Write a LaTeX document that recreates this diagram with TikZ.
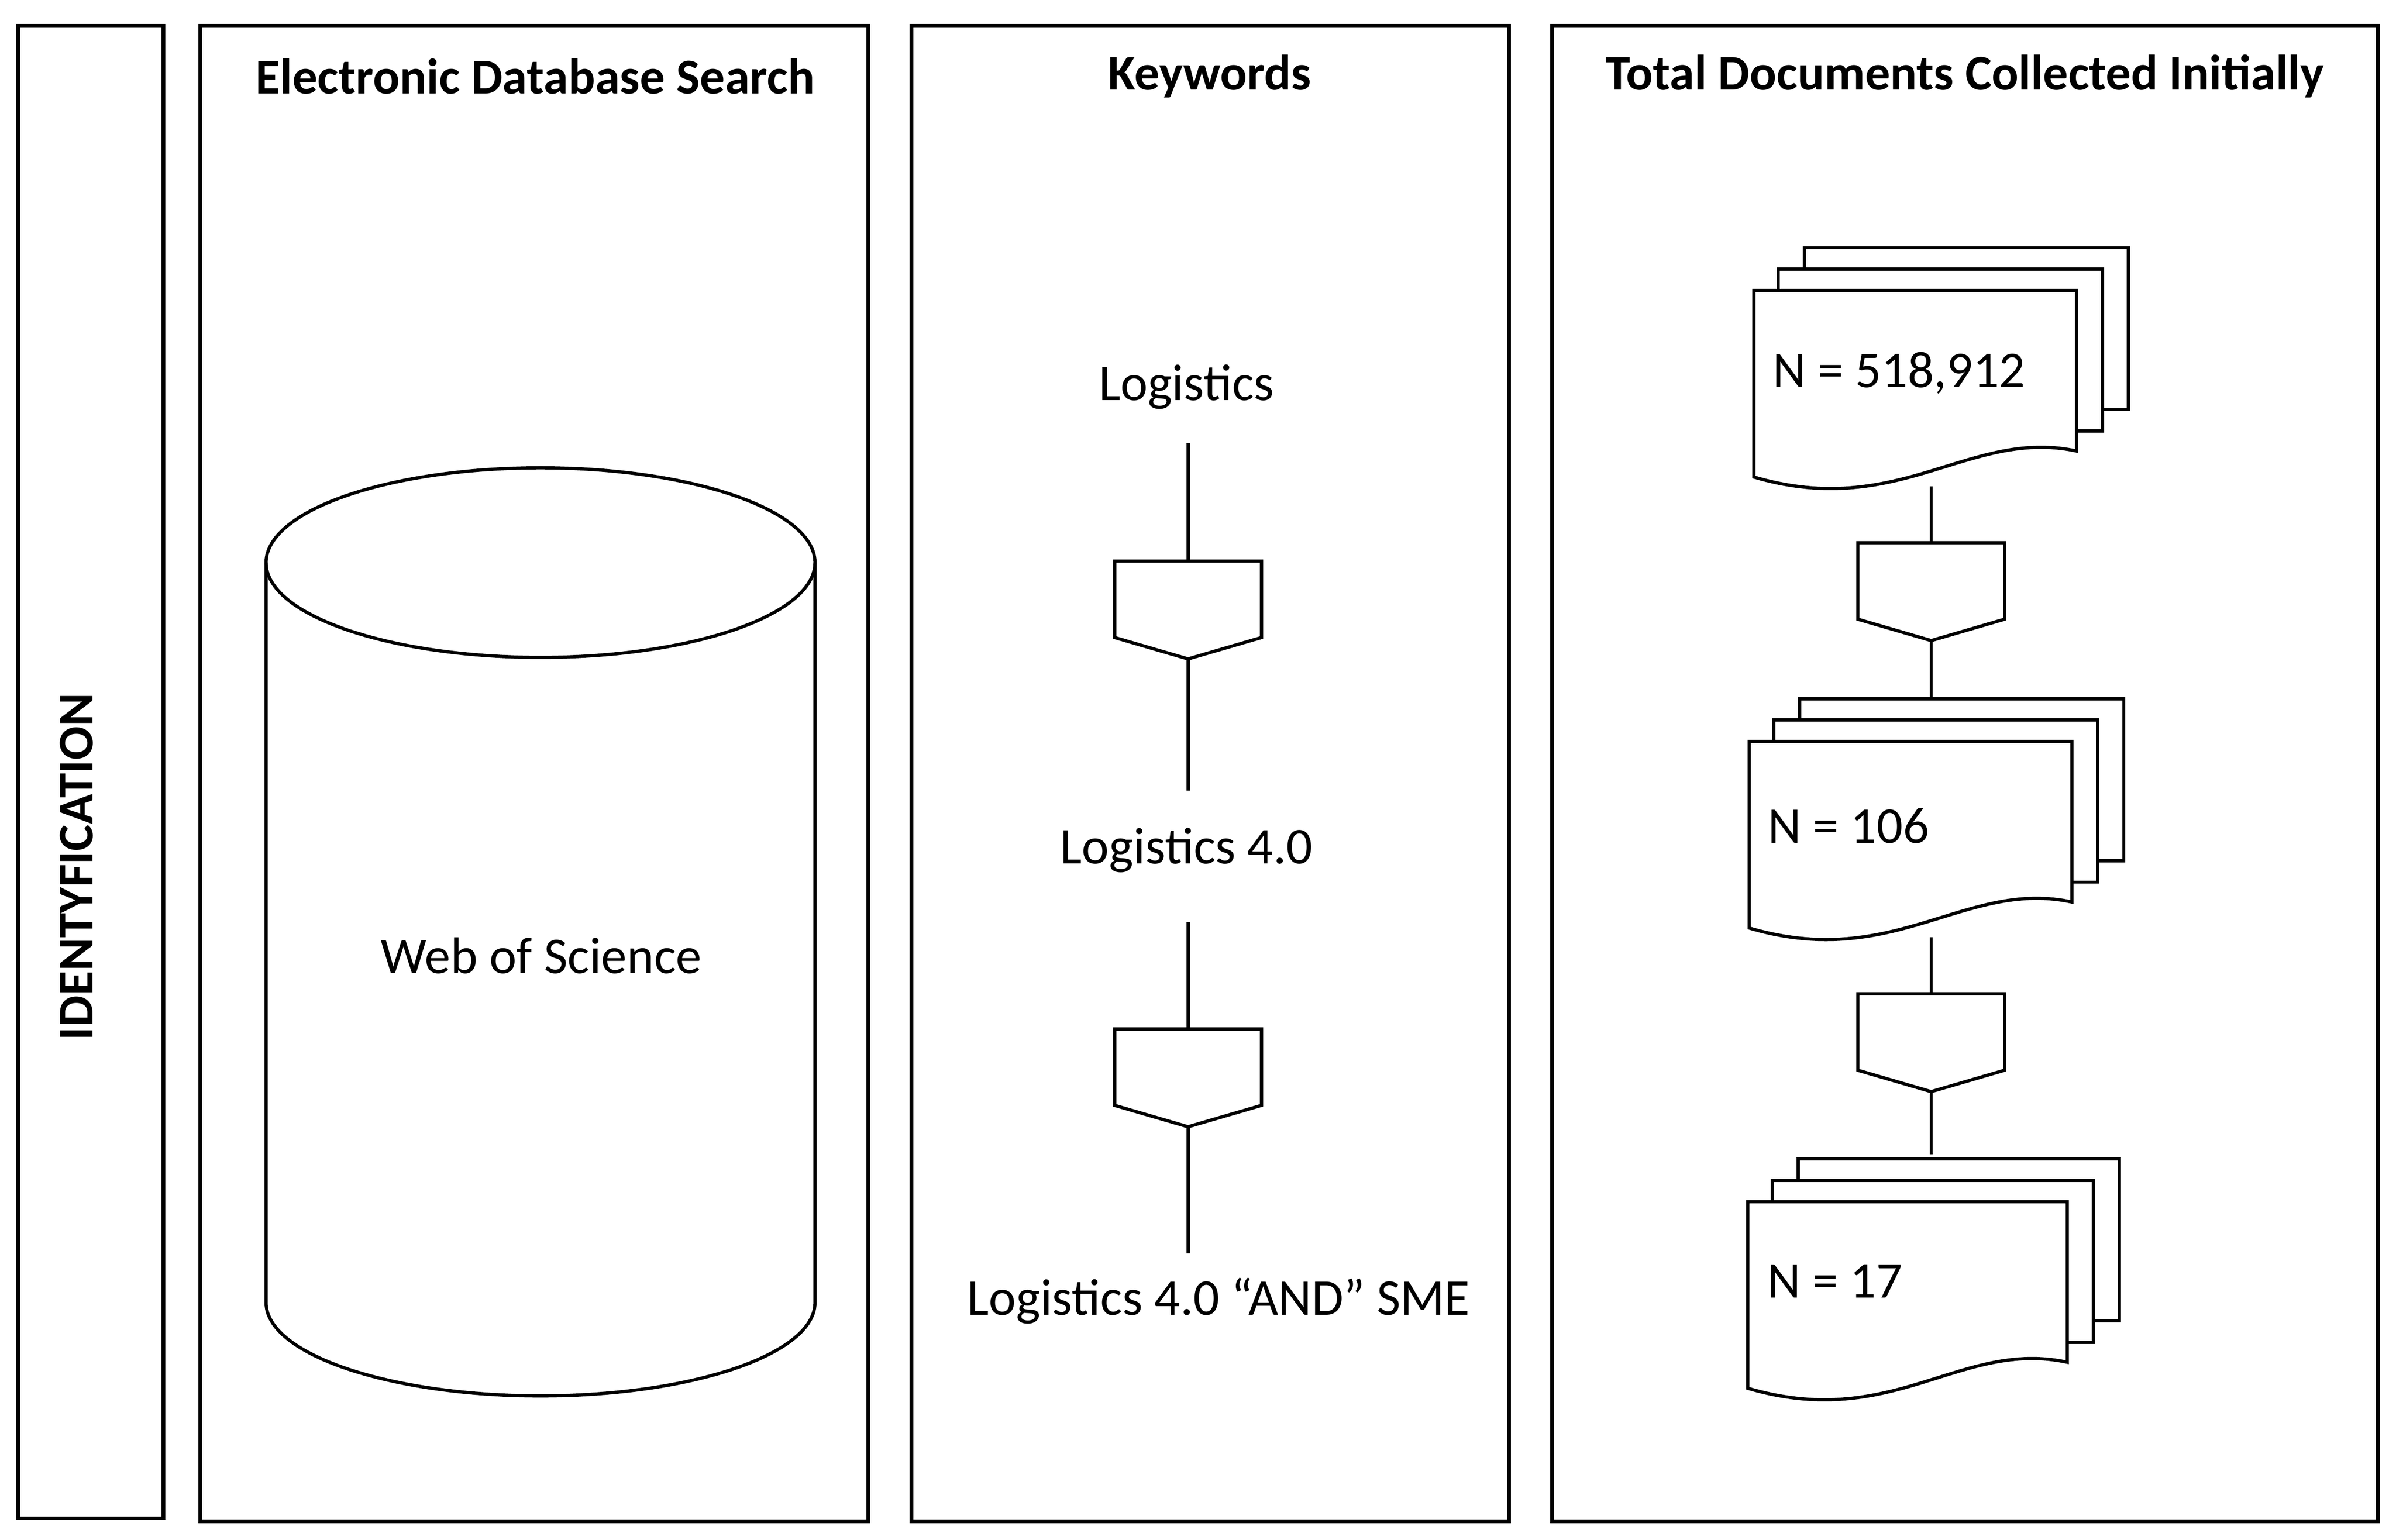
\documentclass[tikz,border=0pt]{standalone}
\usepackage{fontspec}
\setmainfont{Carlito}
\begin{document}
\begin{tikzpicture}[x=0.01cm,y=-0.01cm,line width=0.6pt,
  txt/.style={font=\fontsize{9.6}{12}\selectfont,inner sep=1pt},
  ttl/.style={font=\bfseries\fontsize{9.3}{11}\selectfont,inner sep=1pt},
  box/.style={draw,line width=0.7pt}]
\useasboundingbox (0,0) rectangle (1567,1007);
% panels
\draw[box] (12,17) rectangle (107,993);
\node[ttl,rotate=90] (id) at (50,567) {IDENTYFICATION};
\draw[box] (131,17) rectangle (568,995);
\node[ttl] (t1) at (350,50) {Electronic Database Search};
\draw[box] (596,17) rectangle (987,995);
\node[ttl] (t2) at (791,50) {Keywords};
\draw[box] (1015,17) rectangle (1555,995);
\node[ttl] (t3) at (1285,50) {Total Documents Collected Initially};
% cylinder
\draw (174,368) -- (174,852) arc[start angle=180,end angle=0,x radius=179.5,y radius=61] -- (533,368);
\draw (353.5,368) ellipse[x radius=179.5,y radius=62];
\node[txt] (wos) at (354,625) {Web of Science};
% keywords
\newcommand\pent[3]{% cx, top, name
  \draw (#1-48,#2) -- (#1+48,#2) -- (#1+48,#2+50) -- (#1,#2+64) -- (#1-48,#2+50) -- cycle;
  \coordinate (#3t) at (#1,#2); \coordinate (#3b) at (#1,#2+64);}
\node[txt] (k1) at (776,253) {Logistics};
\node[txt] (k2) at (776,556) {Logistics 4.0};
\node[txt] (k3) at (797,851) {Logistics 4.0 “AND” SME};
\pent{777}{367}{p1}
\pent{777}{673}{p2}
\draw (777,290) -- (p1t); \draw (p1b) -- (777,517);
\draw (777,603) -- (p2t); \draw (p2b) -- (777,820);
% documents
\newcommand\doc[3]{% x1, x2, top
  \draw[fill=white] (#1,#3) -- (#2,#3) -- (#2,#3+105)
    .. controls (#2-70,#3+90) and (#1+95,#3+150) .. (#1,#3+122) -- cycle;}
\newcommand\docs[3]{% x1 x2 top
  \draw[fill=white] (#1+33,#3-28) rectangle (#2+34,#3+78);
  \draw[fill=white] (#1+16,#3-14) rectangle (#2+17,#3+92);
  \doc{#1}{#2}{#3}}
\docs{1147}{1358}{190}
\node[txt] (n1) at (1242,244) {N = 518,912};
\docs{1144}{1355}{485}
\node[txt] (n2) at (1209,540) {N = 106};
\docs{1143}{1352}{786}
\node[txt] (n3) at (1200,838) {N = 17};
\pent{1263}{355}{q1}
\pent{1263}{650}{q2}
\draw (1263,318) -- (q1t); \draw (q1b) -- (1263,458);
\draw (1263,613) -- (q2t); \draw (q2b) -- (1263,755);
\end{tikzpicture}
\end{document}
